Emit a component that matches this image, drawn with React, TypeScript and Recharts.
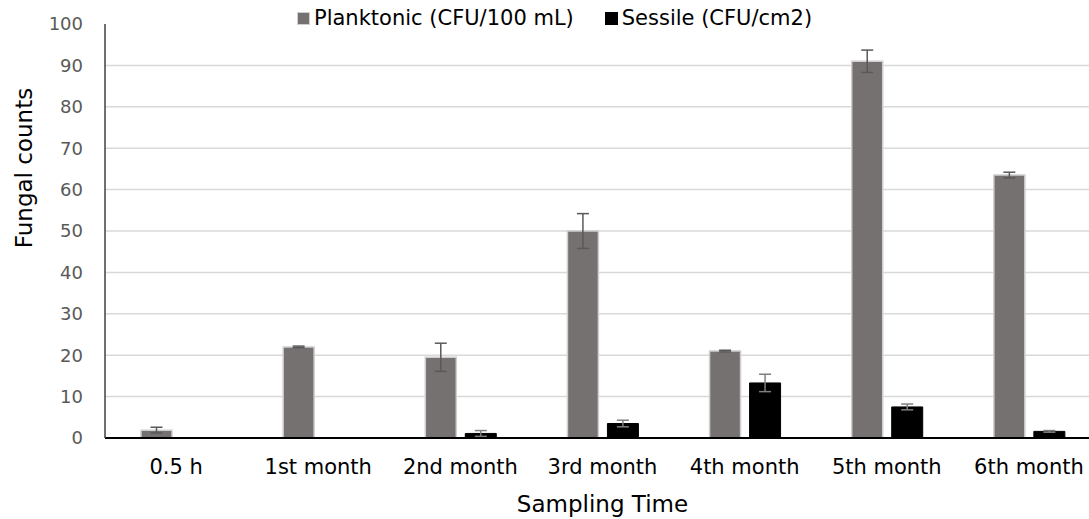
import React from 'react';
import { BarChart, Bar, XAxis, YAxis, CartesianGrid, Legend, ErrorBar, Label } from 'recharts';

const categories = ['0.5 h', '1st month', '2nd month', '3rd month', '4th month', '5th month', '6th month'];
const planktonic = [1.9, 22, 19.5, 50, 21, 91, 63.5];
const planktonicErr = [0.7, 0.2, 3.4, 4.2, 0.2, 2.7, 0.7];
const sessile = [0.1, 0.1, 1.1, 3.5, 13.3, 7.5, 1.6];
const sessileErr = [0, 0, 0.7, 0.8, 2.1, 0.7, 0.2];
const yTicks = [0, 10, 20, 30, 40, 50, 60, 70, 80, 90, 100];
const gridValues = [10, 20, 30, 40, 50, 60, 70, 80, 90];
const seriesNames = ['Planktonic (CFU/100 mL)', 'Sessile (CFU/cm2)'];
const xTitle = 'Sampling Time';
const yTitle = 'Fungal counts';

const data = categories.map((name, i) => ({
  name,
  planktonic: planktonic[i],
  pErr: planktonicErr[i],
  sessile: sessile[i],
  sErr: sessileErr[i],
}));

const FONT = '"DejaVu Sans", Verdana, sans-serif';

const LegendContent = (props: any) => {
  const payload = props.payload || [];
  return (
    <div style={{ display: 'flex', alignItems: 'center', fontFamily: FONT, fontSize: 21, color: '#000', whiteSpace: 'nowrap' }}>
      {payload.map((p: any, i: number) => (
        <div key={i} style={{ display: 'flex', alignItems: 'center', marginRight: 31 }}>
          <span
            style={{
              display: 'inline-block',
              width: 11,
              height: 11,
              background: p.payload?.fill ?? p.color,
              border: `1px solid ${p.payload?.stroke ?? p.color}`,
              marginRight: 4,
            }}
          />
          <span>{p.value}</span>
        </div>
      ))}
    </div>
  );
};

export default function App() {
  return (
    <div style={{ position: 'absolute', left: 0, top: 0, width: 1089, height: 519, overflow: 'hidden', background: '#fff' }}>
      <BarChart
        width={1110}
        height={519}
        data={data}
        margin={{ top: 24, right: 10, bottom: 0, left: 0 }}
        barGap={9}
        barSize={31}
        style={{ fontFamily: FONT }}
      >
        <CartesianGrid vertical={false} horizontalValues={gridValues} stroke="#d9d9d9" strokeWidth={1.5} />
        <XAxis
          dataKey="name"
          interval={0}
          height={81}
          tickLine={false}
          tickSize={0}
          tickMargin={21}
          axisLine={{ stroke: '#000', strokeWidth: 2 }}
          tick={{ fill: '#000', fontSize: 21, fontFamily: FONT }}
        >
          <Label value={xTitle} position="insideBottom" offset={7} style={{ fill: '#000', fontSize: 23, fontFamily: FONT }} />
        </XAxis>
        <YAxis
          width={105}
          domain={[0, 100]}
          ticks={yTicks}
          tickLine={false}
          tickSize={0}
          tickMargin={22}
          axisLine={{ stroke: '#404040', strokeWidth: 1.5 }}
          tick={{ fill: '#595959', fontSize: 18, fontFamily: FONT }}
        >
          <Label
            content={() => (
              <text
                x={24}
                y={168}
                transform="rotate(-90 24 168)"
                textAnchor="middle"
                dominantBaseline="central"
                style={{ fill: '#000', fontSize: 23, fontFamily: FONT }}
              >
                {yTitle}
              </text>
            )}
          />
        </YAxis>
        <Legend
          layout="vertical"
          verticalAlign="middle"
          align="center"
          wrapperStyle={{ top: 6, left: 297, width: 'auto' }}
          content={<LegendContent />}
        />
        <Bar dataKey="planktonic" name={seriesNames[0]} fill="#767171" stroke="#d0cece" strokeWidth={1.5} isAnimationActive={false}>
          <ErrorBar dataKey="pErr" width={6} stroke="#595959" strokeWidth={1.5} isAnimationActive={false} />
        </Bar>
        <Bar dataKey="sessile" name={seriesNames[1]} fill="#000000" stroke="#000000" strokeWidth={1} isAnimationActive={false}>
          <ErrorBar dataKey="sErr" width={6} stroke="#7f7f7f" strokeWidth={1.5} isAnimationActive={false} />
        </Bar>
      </BarChart>
    </div>
  );
}
